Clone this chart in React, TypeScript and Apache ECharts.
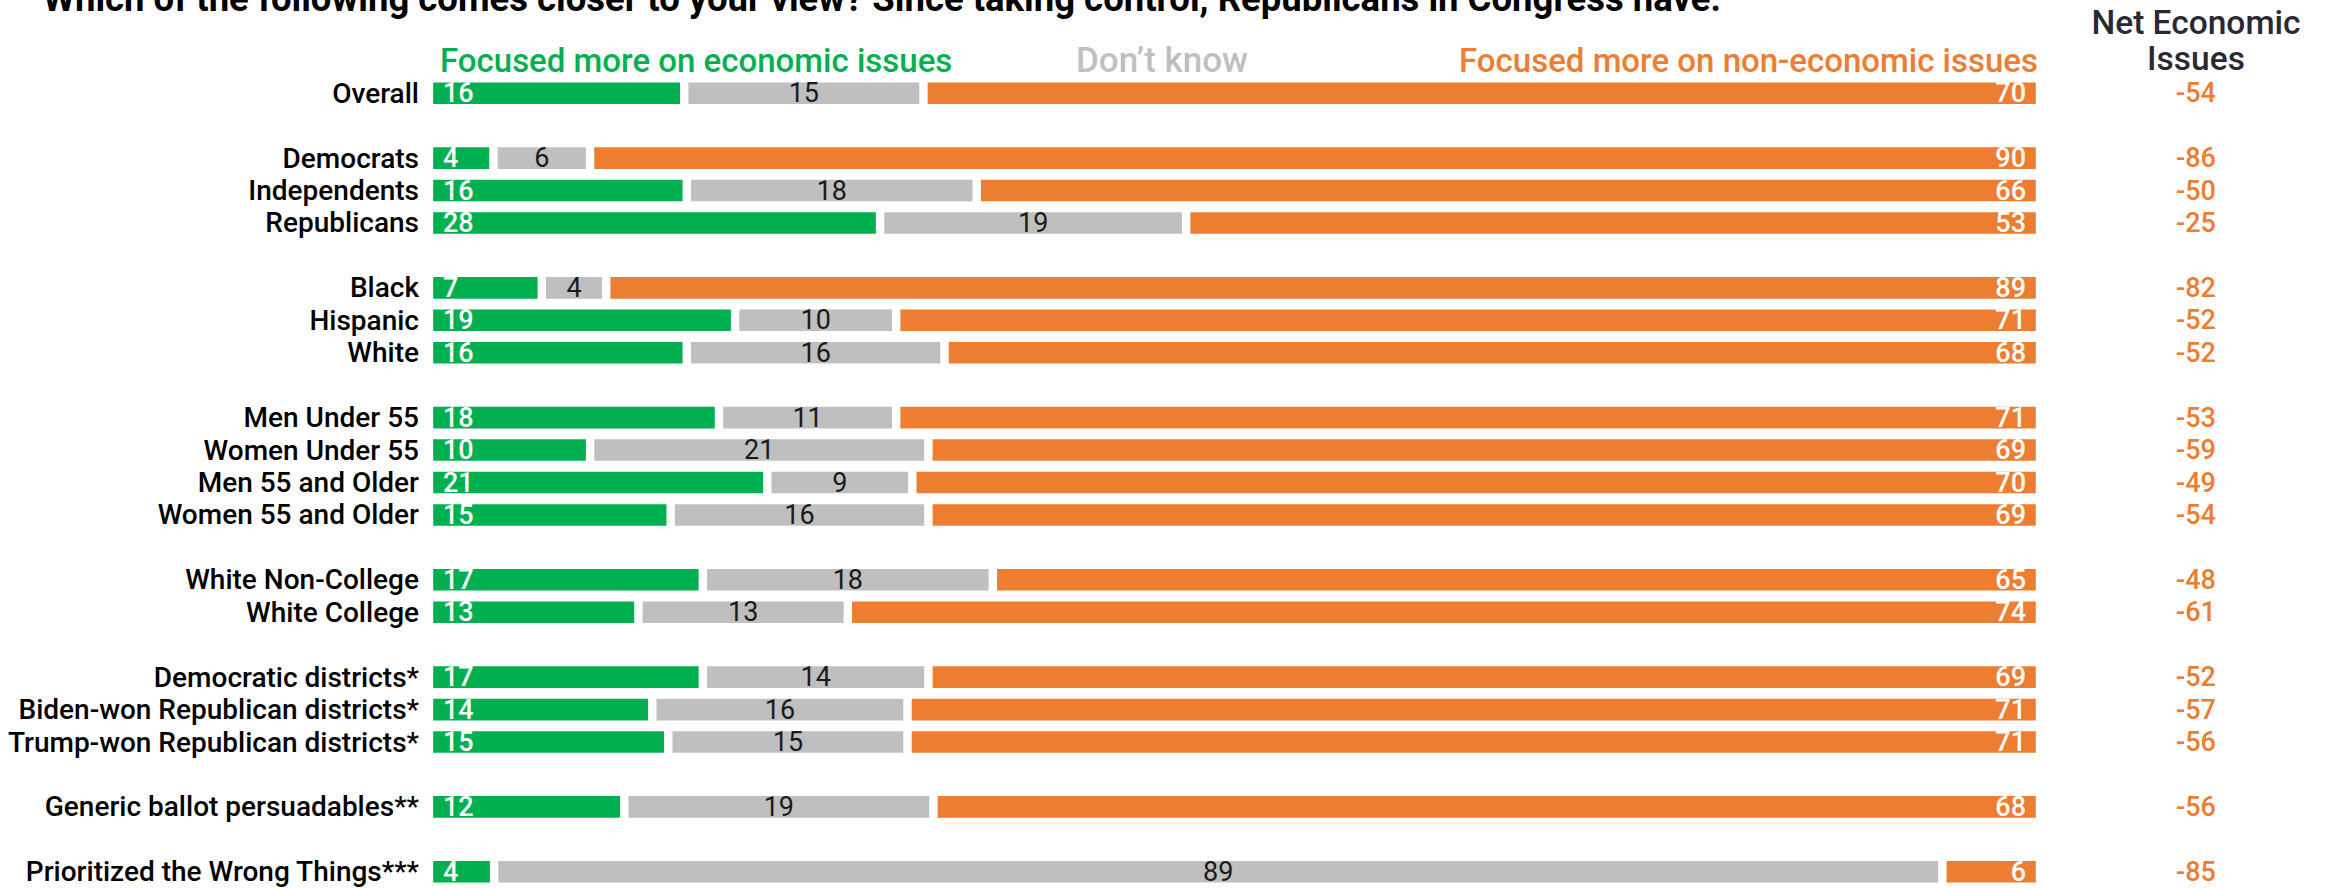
import React, { useEffect, useRef } from 'react';
import * as echarts from 'echarts';

const chartTitle =
  'Which of the following comes closer to your view? Since taking control, Republicans in Congress have:';

const categories = [
  'Overall', '',
  'Democrats', 'Independents', 'Republicans', '',
  'Black', 'Hispanic', 'White', '',
  'Men Under 55', 'Women Under 55', 'Men 55 and Older', 'Women 55 and Older', '',
  'White Non-College', 'White College', '',
  'Democratic districts*', 'Biden-won Republican districts*', 'Trump-won Republican districts*', '',
  'Generic ballot persuadables**', '',
  'Prioritized the Wrong Things***',
];

const economic = [16, null, 4, 16, 28, null, 7, 19, 16, null, 18, 10, 21, 15, null, 17, 13, null, 17, 14, 15, null, 12, null, 4];
const dontKnow = [15, null, 6, 18, 19, null, 4, 10, 16, null, 11, 21, 9, 16, null, 18, 13, null, 14, 16, 15, null, 19, null, 89];
const nonEconomic = [70, null, 90, 66, 53, null, 89, 71, 68, null, 71, 69, 70, 69, null, 65, 74, null, 69, 71, 71, null, 68, null, 6];
const netEconomic = [-54, null, -86, -50, -25, null, -82, -52, -52, null, -53, -59, -49, -54, null, -48, -61, null, -52, -57, -56, null, -56, null, -85];

const seriesNames = ['Focused more on economic issues', 'Don\u2019t know', 'Focused more on non-economic issues'];
const netHeader = ['Net Economic', 'Issues'];

const GREEN = '#00B050';
const GRAY = '#BFBFBF';
const ORANGE = '#ED7D31';
const FONT = 'Roboto, "Noto Sans", sans-serif';

export default function App() {
  const ref = useRef<HTMLDivElement>(null);

  useEffect(() => {
    const chart = echarts.init(ref.current!, null, { renderer: 'svg' });

    const totals = categories.map((_, i) =>
      economic[i] == null ? null : (economic[i] as number) + (dontKnow[i] as number) + (nonEconomic[i] as number)
    );
    const share = (arr: (number | null)[]) =>
      arr.map((v, i) => (v == null || totals[i] == null ? null : (v / (totals[i] as number)) * 100));

    const raw = [economic, dontKnow, nonEconomic];
    const colors = [GREEN, GRAY, ORANGE];
    const positions = ['insideLeft', 'inside', 'insideRight'];
    const labelColors = ['#ffffff', '#1a1a1a', '#ffffff'];
    const labelWeights = [500, 400, 500];

    const series = raw.map((arr, s) => ({
      name: seriesNames[s],
      type: 'bar',
      stack: 'total',
      barWidth: 30,
      data: share(arr),
      itemStyle: { color: colors[s], borderColor: '#ffffff', borderWidth: 4.2 },
      label: {
        show: true,
        position: positions[s],
        distance: 14,
        color: labelColors[s],
        fontSize: 27,
        fontWeight: labelWeights[s],
        fontFamily: FONT,
        formatter: (p: any) => (arr[p.dataIndex] == null ? '' : String(arr[p.dataIndex])),
      },
    }));

    chart.setOption({
      animation: false,
      backgroundColor: '#ffffff',
      grid: { left: 429, width: 1611, top: 77, height: 811, containLabel: false },
      xAxis: { type: 'value', min: 0, max: 100, show: false },
      yAxis: [
        {
          type: 'category',
          data: categories,
          inverse: true,
          axisLine: { show: false },
          axisTick: { show: false },
          splitLine: { show: false },
          axisLabel: { interval: 0, margin: 10, fontSize: 28, fontWeight: 500, color: '#000000', fontFamily: FONT },
        },
        {
          type: 'category',
          data: netEconomic.map((v) => (v == null ? '' : String(v))),
          inverse: true,
          position: 'right',
          axisLine: { show: false },
          axisTick: { show: false },
          splitLine: { show: false },
          axisLabel: { interval: 0, margin: 156, align: 'center', fontSize: 27, fontWeight: 500, color: ORANGE, fontFamily: FONT },
        },
      ],
      series,
      graphic: [
        {
          type: 'text',
          x: 43,
          y: -2,
          style: { text: chartTitle, fontSize: 36.5, fontWeight: 'bold', fill: '#000000', fontFamily: FONT, verticalAlign: 'middle', align: 'left' },
        },
        {
          type: 'text',
          x: 440,
          y: 60,
          style: { text: seriesNames[0], fontSize: 33, fontWeight: 500, fill: GREEN, fontFamily: FONT, verticalAlign: 'middle', align: 'left' },
        },
        {
          type: 'text',
          x: 1076,
          y: 60,
          style: { text: seriesNames[1], fontSize: 35, fontWeight: 500, fill: GRAY, fontFamily: FONT, verticalAlign: 'middle', align: 'left' },
        },
        {
          type: 'text',
          x: 2038,
          y: 60,
          style: { text: seriesNames[2], fontSize: 33, fontWeight: 500, fill: ORANGE, fontFamily: FONT, verticalAlign: 'middle', align: 'right' },
        },
        {
          type: 'text',
          x: 2196,
          y: 22,
          style: { text: netHeader[0], fontSize: 33.5, fontWeight: 500, fill: '#2b2833', fontFamily: FONT, verticalAlign: 'middle', align: 'center' },
        },
        {
          type: 'text',
          x: 2196,
          y: 58,
          style: { text: netHeader[1], fontSize: 33.5, fontWeight: 500, fill: '#2b2833', fontFamily: FONT, verticalAlign: 'middle', align: 'center' },
        },
      ],
    });

    return () => chart.dispose();
  }, []);

  return <div ref={ref} style={{ position: 'fixed', left: 0, top: 0, width: 2331, height: 888 }} />;
}
